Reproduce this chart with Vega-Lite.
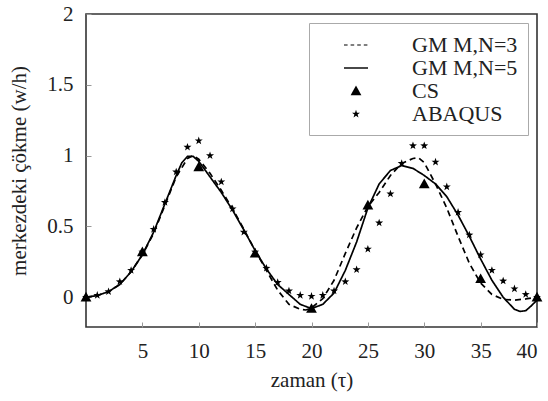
{
  "$schema": "https://vega.github.io/schema/vega-lite/v6.json",
  "width": 451,
  "height": 313,
  "autosize": "none",
  "padding": {"left": 86, "top": 14, "right": 11, "bottom": 74},
  "background": "white",
  "config": {
    "view": {"stroke": "#333", "strokeWidth": 1.6},
    "font": "Liberation Serif, Times New Roman, serif",
    "axis": {
      "domain": false, "grid": false,
      "tickSize": -5, "tickColor": "#999", "tickWidth": 1,
      "labelFont": "Liberation Serif, Times New Roman, serif", "labelFontSize": 21, "labelColor": "#222",
      "titleFont": "Liberation Serif, Times New Roman, serif", "titleFontSize": 21, "titleColor": "#222", "titleFontWeight": "normal"
    },
    "legend": {
      "labelFont": "Liberation Serif, Times New Roman, serif", "labelFontSize": 22, "labelColor": "#222"
    }
  },
  "datasets": {
    "curves": [
      {"s": "GM M,N=5", "x": 0, "y": 0}, {"s": "GM M,N=5", "x": 1, "y": 0.012}, {"s": "GM M,N=5", "x": 2, "y": 0.04},
      {"s": "GM M,N=5", "x": 3, "y": 0.09}, {"s": "GM M,N=5", "x": 4, "y": 0.18}, {"s": "GM M,N=5", "x": 5, "y": 0.30},
      {"s": "GM M,N=5", "x": 6, "y": 0.46}, {"s": "GM M,N=5", "x": 7, "y": 0.66}, {"s": "GM M,N=5", "x": 8, "y": 0.86},
      {"s": "GM M,N=5", "x": 8.5, "y": 0.95}, {"s": "GM M,N=5", "x": 9, "y": 0.995}, {"s": "GM M,N=5", "x": 9.5, "y": 0.995},
      {"s": "GM M,N=5", "x": 10, "y": 0.96}, {"s": "GM M,N=5", "x": 11, "y": 0.85}, {"s": "GM M,N=5", "x": 12, "y": 0.74},
      {"s": "GM M,N=5", "x": 13, "y": 0.615}, {"s": "GM M,N=5", "x": 14, "y": 0.475}, {"s": "GM M,N=5", "x": 15, "y": 0.33},
      {"s": "GM M,N=5", "x": 16, "y": 0.2}, {"s": "GM M,N=5", "x": 17, "y": 0.09}, {"s": "GM M,N=5", "x": 18, "y": 0.02},
      {"s": "GM M,N=5", "x": 19, "y": -0.05}, {"s": "GM M,N=5", "x": 20, "y": -0.08}, {"s": "GM M,N=5", "x": 21, "y": -0.05},
      {"s": "GM M,N=5", "x": 22, "y": 0.03}, {"s": "GM M,N=5", "x": 23, "y": 0.19}, {"s": "GM M,N=5", "x": 24, "y": 0.39},
      {"s": "GM M,N=5", "x": 25, "y": 0.63}, {"s": "GM M,N=5", "x": 26, "y": 0.80}, {"s": "GM M,N=5", "x": 27, "y": 0.895},
      {"s": "GM M,N=5", "x": 28, "y": 0.93}, {"s": "GM M,N=5", "x": 29, "y": 0.91}, {"s": "GM M,N=5", "x": 30, "y": 0.86},
      {"s": "GM M,N=5", "x": 31, "y": 0.80}, {"s": "GM M,N=5", "x": 32, "y": 0.71}, {"s": "GM M,N=5", "x": 33, "y": 0.58},
      {"s": "GM M,N=5", "x": 34, "y": 0.43}, {"s": "GM M,N=5", "x": 35, "y": 0.27}, {"s": "GM M,N=5", "x": 36, "y": 0.12},
      {"s": "GM M,N=5", "x": 37, "y": 0.0}, {"s": "GM M,N=5", "x": 38, "y": -0.085}, {"s": "GM M,N=5", "x": 38.5, "y": -0.1},
      {"s": "GM M,N=5", "x": 39, "y": -0.095}, {"s": "GM M,N=5", "x": 39.5, "y": -0.06}, {"s": "GM M,N=5", "x": 40, "y": -0.02},
      {"s": "GM M,N=3", "x": 0, "y": 0}, {"s": "GM M,N=3", "x": 1, "y": 0.012}, {"s": "GM M,N=3", "x": 2, "y": 0.04},
      {"s": "GM M,N=3", "x": 3, "y": 0.09}, {"s": "GM M,N=3", "x": 4, "y": 0.18}, {"s": "GM M,N=3", "x": 5, "y": 0.30},
      {"s": "GM M,N=3", "x": 6, "y": 0.45}, {"s": "GM M,N=3", "x": 7, "y": 0.65}, {"s": "GM M,N=3", "x": 8, "y": 0.85},
      {"s": "GM M,N=3", "x": 9, "y": 0.98}, {"s": "GM M,N=3", "x": 9.5, "y": 1.0}, {"s": "GM M,N=3", "x": 10, "y": 0.975},
      {"s": "GM M,N=3", "x": 11, "y": 0.875}, {"s": "GM M,N=3", "x": 12, "y": 0.755}, {"s": "GM M,N=3", "x": 13, "y": 0.625},
      {"s": "GM M,N=3", "x": 14, "y": 0.48}, {"s": "GM M,N=3", "x": 15, "y": 0.33}, {"s": "GM M,N=3", "x": 16, "y": 0.19},
      {"s": "GM M,N=3", "x": 17, "y": 0.05}, {"s": "GM M,N=3", "x": 18, "y": -0.05}, {"s": "GM M,N=3", "x": 19, "y": -0.085},
      {"s": "GM M,N=3", "x": 19.5, "y": -0.09}, {"s": "GM M,N=3", "x": 20, "y": -0.075}, {"s": "GM M,N=3", "x": 21, "y": -0.01},
      {"s": "GM M,N=3", "x": 22, "y": 0.12}, {"s": "GM M,N=3", "x": 23, "y": 0.31}, {"s": "GM M,N=3", "x": 24, "y": 0.49},
      {"s": "GM M,N=3", "x": 25, "y": 0.64}, {"s": "GM M,N=3", "x": 26, "y": 0.74}, {"s": "GM M,N=3", "x": 27, "y": 0.86},
      {"s": "GM M,N=3", "x": 28, "y": 0.945}, {"s": "GM M,N=3", "x": 29, "y": 0.98}, {"s": "GM M,N=3", "x": 29.5, "y": 0.985},
      {"s": "GM M,N=3", "x": 30, "y": 0.95}, {"s": "GM M,N=3", "x": 31, "y": 0.80}, {"s": "GM M,N=3", "x": 32, "y": 0.63},
      {"s": "GM M,N=3", "x": 33, "y": 0.43}, {"s": "GM M,N=3", "x": 34, "y": 0.24}, {"s": "GM M,N=3", "x": 35, "y": 0.10},
      {"s": "GM M,N=3", "x": 36, "y": 0.02}, {"s": "GM M,N=3", "x": 37, "y": -0.015}, {"s": "GM M,N=3", "x": 38, "y": -0.02},
      {"s": "GM M,N=3", "x": 39, "y": -0.012}, {"s": "GM M,N=3", "x": 40, "y": 0.0}
    ],
    "points": [
      {"s": "CS", "x": 0, "y": 0}, {"s": "CS", "x": 5, "y": 0.32}, {"s": "CS", "x": 10, "y": 0.92},
      {"s": "CS", "x": 15, "y": 0.31}, {"s": "CS", "x": 20, "y": -0.08}, {"s": "CS", "x": 25, "y": 0.65},
      {"s": "CS", "x": 30, "y": 0.80}, {"s": "CS", "x": 35, "y": 0.13}, {"s": "CS", "x": 40, "y": 0.0},
      {"s": "ABAQUS", "x": 0, "y": 0}, {"s": "ABAQUS", "x": 1, "y": 0.014}, {"s": "ABAQUS", "x": 2, "y": 0.04},
      {"s": "ABAQUS", "x": 3, "y": 0.11}, {"s": "ABAQUS", "x": 4, "y": 0.19}, {"s": "ABAQUS", "x": 5, "y": 0.32},
      {"s": "ABAQUS", "x": 6, "y": 0.48}, {"s": "ABAQUS", "x": 7, "y": 0.67}, {"s": "ABAQUS", "x": 8, "y": 0.885},
      {"s": "ABAQUS", "x": 9, "y": 1.06}, {"s": "ABAQUS", "x": 10, "y": 1.105}, {"s": "ABAQUS", "x": 11, "y": 1.0},
      {"s": "ABAQUS", "x": 12, "y": 0.815}, {"s": "ABAQUS", "x": 13, "y": 0.625}, {"s": "ABAQUS", "x": 14, "y": 0.46},
      {"s": "ABAQUS", "x": 15, "y": 0.32}, {"s": "ABAQUS", "x": 16, "y": 0.205}, {"s": "ABAQUS", "x": 17, "y": 0.105},
      {"s": "ABAQUS", "x": 18, "y": 0.045}, {"s": "ABAQUS", "x": 19, "y": 0.014}, {"s": "ABAQUS", "x": 20, "y": 0.007},
      {"s": "ABAQUS", "x": 21, "y": 0.014}, {"s": "ABAQUS", "x": 22, "y": 0.045}, {"s": "ABAQUS", "x": 23, "y": 0.11},
      {"s": "ABAQUS", "x": 24, "y": 0.195}, {"s": "ABAQUS", "x": 25, "y": 0.34}, {"s": "ABAQUS", "x": 26, "y": 0.525},
      {"s": "ABAQUS", "x": 27, "y": 0.73}, {"s": "ABAQUS", "x": 28, "y": 0.945}, {"s": "ABAQUS", "x": 29, "y": 1.07},
      {"s": "ABAQUS", "x": 30, "y": 1.07}, {"s": "ABAQUS", "x": 31, "y": 0.955}, {"s": "ABAQUS", "x": 32, "y": 0.78},
      {"s": "ABAQUS", "x": 33, "y": 0.60}, {"s": "ABAQUS", "x": 34, "y": 0.44}, {"s": "ABAQUS", "x": 35, "y": 0.30},
      {"s": "ABAQUS", "x": 36, "y": 0.19}, {"s": "ABAQUS", "x": 37, "y": 0.115}, {"s": "ABAQUS", "x": 38, "y": 0.06},
      {"s": "ABAQUS", "x": 39, "y": 0.02}, {"s": "ABAQUS", "x": 40, "y": 0.0}
    ]
  },
  "layer": [
    {
      "mark": {"type": "rule", "color": "#b8b8e0", "strokeWidth": 1.2},
      "encoding": {
        "y": {"datum": 0, "type": "quantitative", "scale": {"domain": [-0.21, 2]}}
      }
    },
    {
      "data": {"name": "curves"},
      "mark": {"type": "line", "color": "black", "strokeWidth": 1.7},
      "encoding": {
        "x": {"field": "x", "type": "quantitative", "scale": {"domain": [0, 40], "nice": false, "zero": false},
              "axis": {"values": [5, 10, 15, 20, 25, 30, 35, 40], "labelPadding": 18, "title": "zaman (τ)", "titlePadding": 8}},
        "y": {"field": "y", "type": "quantitative", "scale": {"domain": [-0.21, 2], "nice": false, "zero": false},
              "axis": {"values": [0, 0.5, 1, 1.5, 2], "format": "~g", "labelPadding": 18, "title": "merkezdeki çökme (w/h)", "titlePadding": 17}},
        "detail": {"field": "s"},
        "strokeDash": {"field": "s", "type": "nominal",
                       "scale": {"domain": ["GM M,N=3", "GM M,N=5"], "range": [[6, 4], [1, 0]]}, "legend": null}
      }
    },
    {
      "data": {"name": "points"},
      "mark": {"type": "point", "filled": true, "color": "black", "opacity": 1, "size": 576},
      "encoding": {
        "x": {"field": "x", "type": "quantitative"},
        "y": {"field": "y", "type": "quantitative"},
        "shape": {"field": "s", "type": "nominal",
          "scale": {"domain": ["GM M,N=3", "GM M,N=5", "CS", "ABAQUS"],
                    "range": ["M-1,-0.05H-0.7V0.05H-1ZM-0.45,-0.05H-0.15V0.05H-0.45ZM0.1,-0.05H0.4V0.05H0.1ZM0.65,-0.05H0.95V0.05H0.65Z",
                              "M-1,-0.06H1V0.06H-1Z",
                              "M0,-0.45L0.45,0.35L-0.45,0.35Z",
                              "M0,-0.35L0.0823,-0.1133L0.3329,-0.1082L0.1331,0.0433L0.2057,0.2832L0,0.14L-0.2057,0.2832L-0.1331,0.0433L-0.3329,-0.1082L-0.0823,-0.1133Z"]},
          "legend": {
            "title": null, "orient": "top-right", "offset": 9,
            "strokeColor": "#aaa", "fillColor": "white", "padding": 10,
            "symbolSize": 576, "symbolOffset": 25, "labelOffset": 44, "rowPadding": 0,
            "symbolFillColor": "black", "symbolStrokeColor": "black", "symbolStrokeWidth": 0, "symbolOpacity": 1,
            "encode": {"symbols": {"update": {"fill": {"value": "black"}, "opacity": {"value": 1}}}}
          }
        }
      }
    }
  ]
}
